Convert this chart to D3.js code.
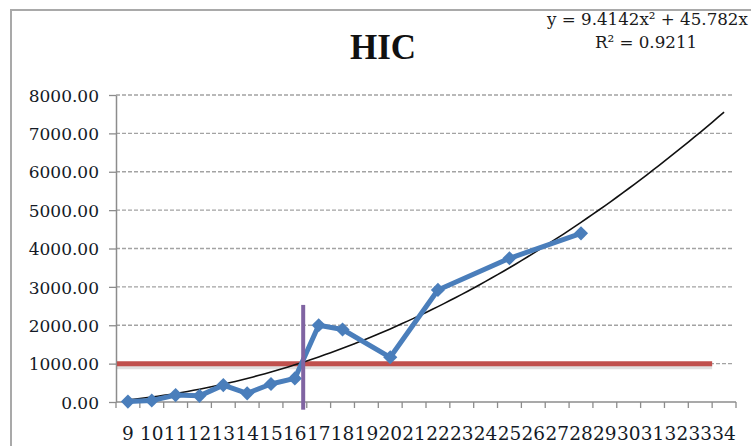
<!DOCTYPE html>
<html>
<head>
<meta charset="utf-8">
<script src="https://cdn.jsdelivr.net/npm/d3@7.9.0/dist/d3.min.js"></script>
<style>
  html, body { margin: 0; padding: 0; background: #fff; }
  svg { display: block; }
</style>
</head>
<body>
<svg id="chart" width="751" height="446"></svg>
<script>
// categories on the x axis
const categories = ["9","10","11","12","13","14","15","16","17","18","19","20","21",
  "22","23","24","25","26","27","28","29","30","31","32","33","34"];

// HIC series (only some categories have a value)
const hicCats = ["9","10","11","12","13","14","15","16","17","18","20","22","25","28"];
const hicValues = [10, 40, 180, 160, 440, 225, 470, 615, 2000, 1890, 1165, 2920, 3745, 4395];

const yTicks = [0, 1000, 2000, 3000, 4000, 5000, 6000, 7000, 8000];

// polynomial trendline as printed on the chart: y = a x^2 + b x
const trendCoef = [9.4142, 45.782];
const trendLabel = ["y = 9.4142x² + 45.782x", "R² = 0.9211"];

// the hand drawn reference lines
const thresholdValue = 1000;     // red horizontal
const thresholdEnd = 33.5;       // category position where red line stops
const cutCategory = 16.35;       // purple vertical, category position
const cutRange = [-200, 2530];

const svg = d3.select("#chart");

// chart frame
svg.append("rect")
  .attr("x", 11).attr("y", 10)
  .attr("width", 800).attr("height", 500)
  .attr("fill", "none")
  .attr("stroke", "#a9a9a9")
  .attr("stroke-width", 2);

const x = d3.scaleBand().domain(categories).range([116, 736]).padding(0);
const y = d3.scaleLinear().domain([0, 8000]).range([402, 95]);
const bw = x.bandwidth();
// numeric category position -> pixel (center of band)
const catPos = v => x(categories[0]) + (v - +categories[0] + 0.5) * bw;

// gridlines
svg.append("g")
  .selectAll("line")
  .data(yTicks.filter(d => d > 0))
  .join("line")
  .attr("x1", 116).attr("x2", 733)
  .attr("y1", d => y(d)).attr("y2", d => y(d))
  .attr("stroke", "#a3a3a3")
  .attr("stroke-width", 1.3)
  .attr("stroke-dasharray", "4,2");

// y axis
const yAxis = svg.append("g")
  .attr("transform", "translate(116,0)")
  .call(d3.axisLeft(y).tickValues(yTicks).tickFormat(d3.format(".2f")).tickSize(7).tickSizeOuter(0));
yAxis.select(".domain").attr("stroke", "#8c8c8c").attr("stroke-width", 1.5);
yAxis.selectAll(".tick line").attr("stroke", "#8c8c8c").attr("stroke-width", 1.3);
yAxis.selectAll(".tick text")
  .attr("x", -17)
  .attr("dy", "0.36em")
  .style("font-family", "'DejaVu Serif', serif")
  .style("font-size", "17px")
  .attr("fill", "#141a26");

// x axis
const xAxis = svg.append("g")
  .attr("transform", "translate(0,402)");
xAxis.append("line")
  .attr("x1", 116).attr("x2", 736)
  .attr("stroke", "#8c8c8c").attr("stroke-width", 1.5);
xAxis.selectAll("line.tick")
  .data(categories.concat(["end"]))
  .join("line")
  .attr("class", "tick")
  .attr("x1", (d, i) => 116 + i * bw).attr("x2", (d, i) => 116 + i * bw)
  .attr("y1", 0).attr("y2", 6)
  .attr("stroke", "#8c8c8c").attr("stroke-width", 1.3);
xAxis.selectAll("text")
  .data(categories)
  .join("text")
  .attr("x", d => x(d) + bw / 2)
  .attr("y", 38)
  .attr("text-anchor", "middle")
  .style("font-family", "'DejaVu Serif', serif")
  .style("font-size", "18.5px")
  .attr("fill", "#141a26")
  .text(d => d);

// red threshold line with soft shadow
const redY = y(thresholdValue);
svg.append("line")
  .attr("x1", 117).attr("x2", catPos(thresholdEnd))
  .attr("y1", redY + 3).attr("y2", redY + 3)
  .attr("stroke", "#000").attr("stroke-opacity", 0.12)
  .attr("stroke-width", 5);
svg.append("line")
  .attr("x1", 117).attr("x2", catPos(thresholdEnd))
  .attr("y1", redY).attr("y2", redY)
  .attr("stroke", "#c0504d")
  .attr("stroke-width", 5);

// trendline
const trendPts = d3.range(1, categories.length + 0.001, 0.25)
  .map(t => [catPos(+categories[0] + t - 1), trendCoef[0] * t * t + trendCoef[1] * t]);
svg.append("path")
  .datum(trendPts)
  .attr("d", d3.line().x(d => d[0]).y(d => y(d[1])))
  .attr("fill", "none")
  .attr("stroke", "#111")
  .attr("stroke-width", 1.6);

// HIC series
const pts = hicCats.map((c, i) => ({ c, v: hicValues[i] }));
svg.append("path")
  .datum(pts)
  .attr("d", d3.line().x(d => x(d.c) + bw / 2).y(d => y(d.v)))
  .attr("fill", "none")
  .attr("stroke", "#4a7ebb")
  .attr("stroke-width", 5)
  .attr("stroke-linejoin", "round");
svg.append("g")
  .selectAll("path")
  .data(pts)
  .join("path")
  .attr("d", d3.symbol(d3.symbolSquare, 100))
  .attr("transform", d => `translate(${x(d.c) + bw / 2},${y(d.v)}) rotate(45)`)
  .attr("fill", "#4a7ebb");

// purple vertical line
svg.append("line")
  .attr("x1", catPos(cutCategory)).attr("x2", catPos(cutCategory))
  .attr("y1", y(cutRange[1])).attr("y2", y(cutRange[0]))
  .attr("stroke", "#8064a2")
  .attr("stroke-width", 4);

// title
svg.append("text")
  .attr("x", 383).attr("y", 59)
  .attr("text-anchor", "middle")
  .style("font-family", "'Liberation Serif', serif")
  .style("font-weight", "bold")
  .style("font-size", "35px")
  .attr("fill", "#111")
  .text("HIC");

// trendline equation
svg.append("text")
  .attr("x", 547).attr("y", 25)
  .style("font-family", "'DejaVu Serif', serif")
  .style("font-size", "16.7px")
  .attr("fill", "#1a1a1a")
  .text(trendLabel[0]);
svg.append("text")
  .attr("x", 646).attr("y", 48)
  .attr("text-anchor", "middle")
  .style("font-family", "'DejaVu Serif', serif")
  .style("font-size", "16.7px")
  .attr("fill", "#1a1a1a")
  .text(trendLabel[1]);
</script>
</body>
</html>
